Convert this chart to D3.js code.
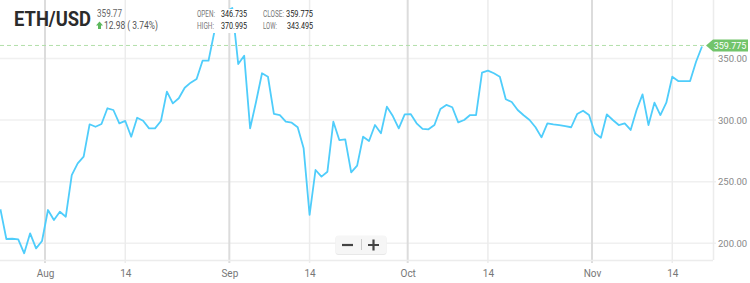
<!DOCTYPE html>
<html>
    <head>
        <meta charset="utf-8">
        <title>ETH/USD</title>
        <style>
            html, body {
                margin: 0px;
                padding: 0px;
                background-color: #fff;
                font-family: Roboto, sans-serif;
            }

            svg { display: block; }

            .grid line { stroke: #f0f0f0; stroke-width: 1.5px; }
            .vgrid .month { stroke: #dcdcdc; stroke-width: 2px; }
            .vgrid .mid { stroke: #ececec; stroke-width: 1.5px; }

            .xAxis text { fill: #777; font-size: 10px; font-family: Roboto; }
            .xAxis .domain { stroke: #ececec; stroke-width: 1.5px; }
            .yAxis text { fill: #888; font-size: 9.5px; font-family: Roboto; }
            .yAxis .domain { stroke: #ececec; stroke-width: 1.5px; }

            .price { fill: none; stroke: #4fcdfb; stroke-width: 1.8px; stroke-linejoin: round; }
            .closeLine { stroke: #b2dfaa; stroke-width: 1px; stroke-dasharray: 4, 3; }

            .title { font-size: 21px; font-weight: bold; fill: #2b2b2b; font-family: "Roboto"; }
            .last { font-size: 10px; fill: #666; }
            .change { font-size: 10px; fill: #555; }
            .hdrKey { font-size: 8.5px; fill: #777; }
            .hdrVal { font-size: 9.5px; fill: #222; }
        </style>
        <script src="https://cdn.jsdelivr.net/npm/d3@7"></script>
    </head>
    <body>
        <div id="main"></div>

        <script>
            // daily closes, Jul 24 .. Nov 19
            var firstDay = new Date(2017, 6, 24);
            var lastDay = new Date(2017, 10, 19);
            var closes = [
                227.6, 203.5, 203.7, 203.2, 191.9, 208.1, 195.9, 201.9, 227.0, 218.9,
                225.6, 221.6, 255.4, 264.9, 270.3, 296.6, 294.6, 296.8, 309.6, 308.2,
                297.4, 299.3, 286.5, 301.9, 299.5, 293.3, 293.3, 299.3, 323.1, 313.6,
                317.7, 326.3, 330.4, 333.4, 348.2, 348.2, 372.0, 383.0, 388.0, 391.0,
                345.5, 352.3, 293.3, 314.9, 338.0, 335.2, 305.0, 304.1, 298.7, 297.9,
                294.2, 277.1, 223.0, 259.5, 254.1, 258.1, 298.7, 283.8, 284.4, 257.6,
                263.0, 286.5, 283.0, 296.0, 289.3, 310.9, 303.3, 293.3, 304.7, 304.9,
                297.4, 292.8, 292.5, 296.0, 309.0, 312.3, 310.4, 298.2, 300.1, 304.1,
                304.1, 338.5, 340.1, 338.0, 335.2, 316.9, 314.7, 308.2, 303.9, 300.1,
                294.2, 286.0, 297.4, 296.6, 296.0, 295.2, 294.2, 304.9, 307.6, 304.1,
                289.3, 285.7, 304.7, 300.1, 296.0, 297.4, 292.0, 308.2, 320.9, 296.0,
                314.1, 304.1, 314.1, 335.2, 331.7, 331.7, 331.7, 347.4, 359.775
            ];
            var yTicks = [200, 250, 300, 350];
            var monthTicks = [new Date(2017, 7, 1), new Date(2017, 8, 1), new Date(2017, 9, 1), new Date(2017, 10, 1)];
            var midTicks = [new Date(2017, 7, 14, 12), new Date(2017, 8, 14, 12), new Date(2017, 9, 14, 12), new Date(2017, 10, 14, 12)];

            var header = { pair: "ETH/USD", last: "359.77", change: "12.98 ( 3.74%)",
                           open: "346.735", high: "370.995", close: "359.775", low: "343.495" };
            var lastClose = 359.775;

            var width = 750;
            var height = 283;
            var plotRight = 713;
            var plotBottom = 260;

            // draws a text squeezed horizontally to a given width (the header uses a narrow face)
            function narrowText(parent, cls, str, x, y, w) {
                var t = parent.append("text")
                    .attr("class", cls)
                    .text(str);
                var nat = t.node().getComputedTextLength();
                t.attr("transform", "translate(" + x + "," + y + ") scale(" + Math.min(1, w / nat) + ",1)");
                return t;
            }

            function main() {
                var svg = d3.select("#main")
                            .append("svg")
                            .attr("width", width)
                            .attr("height", height);

                var days = d3.timeDay.range(firstDay, d3.timeDay.offset(lastDay, 1))
                    .map(function(d) { return d3.timeHour.offset(d, 12); });
                var data = days.map(function(d, i) { return { date: d, close: closes[i] }; });

                var x = d3.scaleTime()
                    .domain([monthTicks[0], monthTicks[3]])
                    .range([45, 592]);
                var y = d3.scaleLinear()
                    .domain([200, 350])
                    .range([243.3, 58.5]);

                svg.append("defs").append("clipPath")
                    .attr("id", "plot")
                    .append("rect")
                    .attr("width", plotRight)
                    .attr("height", plotBottom);

                // horizontal grid
                svg.append("g")
                    .attr("class", "grid")
                    .selectAll("line")
                    .data(yTicks)
                    .enter()
                    .append("line")
                    .attr("x1", 0)
                    .attr("x2", plotRight + 3)
                    .attr("y1", function(d) { return y(d); })
                    .attr("y2", function(d) { return y(d); });

                // vertical grid
                var vg = svg.append("g").attr("class", "vgrid");
                vg.selectAll("line.mid")
                    .data(midTicks)
                    .enter()
                    .append("line")
                    .attr("class", "mid")
                    .attr("x1", function(d) { return x(d); })
                    .attr("x2", function(d) { return x(d); })
                    .attr("y1", 0)
                    .attr("y2", plotBottom + 3);
                vg.selectAll("line.month")
                    .data(monthTicks)
                    .enter()
                    .append("line")
                    .attr("class", "month")
                    .attr("x1", function(d) { return x(d); })
                    .attr("x2", function(d) { return x(d); })
                    .attr("y1", 0)
                    .attr("y2", plotBottom + 3);

                svg.append("g")
                    .attr("class", "xAxis")
                    .attr("transform", "translate(0," + plotBottom + ")")
                    .call(d3.axisBottom(x)
                        .tickValues(monthTicks.concat(midTicks))
                        .tickSize(0)
                        .tickPadding(10)
                        .tickFormat(function(d) { return d.getDate() === 1 ? d3.timeFormat("%b")(d) : d3.timeFormat("%-d")(d); }))
                    .select(".domain")
                    .attr("d", "M0,0.5H" + plotRight);

                svg.append("g")
                    .attr("class", "yAxis")
                    .attr("transform", "translate(" + plotRight + ",0)")
                    .call(d3.axisRight(y)
                        .tickValues(yTicks)
                        .tickSize(0)
                        .tickPadding(5)
                        .tickFormat(d3.format(".2f")))
                    .select(".domain")
                    .attr("d", "M0.5,0V" + plotBottom);

                // last close marker
                svg.append("line")
                    .attr("class", "closeLine")
                    .attr("x1", 0)
                    .attr("x2", 706)
                    .attr("y1", y(lastClose) - 1)
                    .attr("y2", y(lastClose) - 1);

                var line = d3.line()
                    .x(function(d) { return x(d.date); })
                    .y(function(d) { return y(d.close); });

                svg.append("path")
                    .datum(data)
                    .attr("class", "price")
                    .attr("clip-path", "url(#plot)")
                    .attr("d", line);

                var ly = y(lastClose) - 1;
                svg.append("path")
                    .attr("d", "M706," + ly + "L713," + (ly - 6) + "H748V" + (ly + 6) + "H713Z")
                    .attr("fill", "#72c46b");
                svg.append("text")
                    .attr("x", 730)
                    .attr("y", ly + 3.5)
                    .attr("text-anchor", "middle")
                    .attr("fill", "#fff")
                    .style("font-size", "9px")
                    .text(header.close);

                // header
                svg.append("rect")
                    .attr("x", 195).attr("y", 9)
                    .attr("width", 56).attr("height", 24)
                    .attr("fill", "#fff");

                narrowText(svg, "title", header.pair, 14, 25.5, 77);
                narrowText(svg, "last", header.last, 97, 17, 25);
                svg.append("path")
                    .attr("d", "M99.5,21.5 L103,25.5 H101 V29 H98 V25.5 H96 Z")
                    .attr("fill", "#5cb85c");
                narrowText(svg, "change", header.change, 104, 29, 54);

                // key, value, key x, value x, baseline, key width, value width
                var rows = [
                    ["OPEN:", header.open, 197, 221, 17, 18, 26],
                    ["HIGH:", header.high, 197, 221, 28.5, 17, 26],
                    ["CLOSE:", header.close, 263, 286, 17, 21, 27],
                    ["LOW:", header.low, 263, 287, 28.5, 14, 26]
                ];
                var hg = svg.append("g").attr("class", "hdr");
                rows.forEach(function(r) {
                    narrowText(hg, "hdrKey", r[0], r[2], r[4], r[5]);
                    narrowText(hg, "hdrVal", r[1], r[3], r[4], r[6]);
                });

                // zoom buttons
                var zb = svg.append("g").attr("transform", "translate(335,235)");
                zb.append("rect")
                    .attr("x", 0.5).attr("y", 1)
                    .attr("width", 51).attr("height", 19)
                    .attr("rx", 3)
                    .attr("fill", "#e8e8e8");
                zb.append("rect")
                    .attr("x", 0.5).attr("y", 0.5)
                    .attr("width", 51).attr("height", 18.5)
                    .attr("rx", 3)
                    .attr("fill", "#f6f6f6");
                zb.append("line")
                    .attr("x1", 26.5).attr("x2", 26.5)
                    .attr("y1", 4).attr("y2", 15)
                    .attr("stroke", "#ccc");
                zb.append("path")
                    .attr("d", "M7,10H18")
                    .attr("stroke", "#444").attr("stroke-width", 2.2);
                zb.append("path")
                    .attr("d", "M33,10H44M38.5,4.5V15.5")
                    .attr("stroke", "#444").attr("stroke-width", 2.2);
            }

            main();
        </script>
    </body>
</html>
